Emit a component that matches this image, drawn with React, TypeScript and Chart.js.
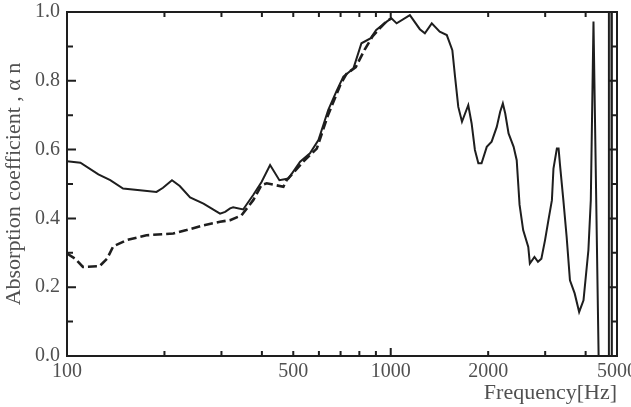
import React, { useEffect, useRef } from "react";
import { Chart, registerables } from "chart.js";

Chart.register(...registerables);

// Solid curve (measured)
const solidFreq = [
  100, 110, 125, 136, 149, 168, 189, 198, 211, 223, 240, 264, 297, 308, 319, 326, 350, 376, 399, 424,
  453, 483, 525, 563, 598, 641, 680, 714, 767, 812, 865, 902, 972, 1005, 1043, 1146, 1230, 1275, 1339,
  1417, 1490, 1550, 1580, 1617, 1660, 1697, 1736, 1778, 1820, 1865, 1908, 1980, 2050, 2126, 2178, 2220,
  2258, 2312, 2397, 2450, 2500, 2565, 2660, 2690, 2780, 2850, 2920, 2997, 3070, 3147, 3182, 3260, 3300,
  3334, 3414, 3495, 3578, 3700, 3820, 3940, 4080, 4150, 4230, 4420, 4690, 4720, 4800, 4820,
];
const solidAbs = [
  0.566, 0.562, 0.528, 0.511, 0.487, 0.482, 0.477, 0.489, 0.511, 0.494, 0.461, 0.443, 0.414, 0.419, 0.429,
  0.432, 0.426, 0.468, 0.506, 0.555, 0.511, 0.516, 0.565, 0.589, 0.628, 0.715, 0.77, 0.812, 0.836, 0.909,
  0.923, 0.948, 0.972, 0.982, 0.967, 0.991, 0.95, 0.938, 0.967, 0.943, 0.933, 0.889, 0.812, 0.724, 0.681,
  0.705, 0.729, 0.676, 0.599, 0.56, 0.56, 0.608, 0.623, 0.666, 0.71, 0.734, 0.705, 0.647, 0.608, 0.569,
  0.44, 0.366, 0.317, 0.269, 0.288, 0.274, 0.283, 0.337, 0.395, 0.453, 0.545, 0.603, 0.603, 0.555, 0.453,
  0.346, 0.22, 0.182, 0.128, 0.162, 0.308, 0.453, 0.972, -0.2, -0.2, 1.3, 1.3, -0.2,
];

// Dashed curve (measured)
const dashedFreq = [
  100, 106, 112, 126, 133, 139, 153, 176, 213, 234, 264, 297, 319, 346, 376, 399, 414, 466, 477, 537,
  591, 640, 700, 730, 780, 830, 880, 930, 975, 1000,
];
const dashedAbs = [
  0.298, 0.283, 0.259, 0.261, 0.283, 0.319, 0.337, 0.351, 0.356, 0.366, 0.38, 0.39, 0.395, 0.409, 0.453,
  0.497, 0.502, 0.492, 0.511, 0.565, 0.603, 0.7, 0.79, 0.82, 0.84, 0.89, 0.93, 0.955, 0.975, 0.98,
];

const xTickLabels = [100, 500, 1000, 2000, 5000];
const xMinorTicks = [200, 300, 400, 500, 600, 700, 800, 900, 1000, 2000, 3000, 4000];
const xLongTicks = [1000];
const yTickLabels = [0, 0.2, 0.4, 0.6, 0.8, 1.0];
const yMinorTicks = [0.1, 0.2, 0.3, 0.4, 0.5, 0.6, 0.7, 0.8, 0.9];
const yLongTicks = [0.2, 0.4, 0.6, 0.8];

const INK = "#1e1e1e";
const TEXT = "#505050";
const FONT = "'Liberation Serif', 'DejaVu Serif', serif";

const framePlugin = {
  id: "frame",
  afterDatasetsDraw(chart: any) {
    const { ctx, chartArea: a, scales } = chart;
    const xs = scales.x;
    const ys = scales.y;
    ctx.save();
    ctx.strokeStyle = INK;
    ctx.lineWidth = 2;
    ctx.strokeRect(a.left, a.top, a.right - a.left, a.bottom - a.top);
    ctx.beginPath();
    xMinorTicks.forEach((v) => {
      const px = xs.getPixelForValue(v);
      const len = xLongTicks.includes(v) ? 8 : 5;
      ctx.moveTo(px, a.bottom);
      ctx.lineTo(px, a.bottom - len);
      ctx.moveTo(px, a.top);
      ctx.lineTo(px, a.top + len);
    });
    yMinorTicks.forEach((v) => {
      const py = ys.getPixelForValue(v);
      const len = yLongTicks.includes(v) ? 9 : 6;
      ctx.moveTo(a.left, py);
      ctx.lineTo(a.left + len, py);
      ctx.moveTo(a.right, py);
      ctx.lineTo(a.right - len, py);
    });
    ctx.stroke();
    ctx.restore();
  },
};

export default function App() {
  const ref = useRef<HTMLCanvasElement | null>(null);

  useEffect(() => {
    if (!ref.current) return;
    const chart = new Chart(ref.current, {
      type: "line",
      data: {
        datasets: [
          {
            label: "solid",
            data: solidFreq.map((f, i) => ({ x: f, y: solidAbs[i] })),
            borderColor: INK,
            borderWidth: 2,
            pointRadius: 0,
            tension: 0,
            fill: false,
            clip: 0,
          },
          {
            label: "dashed",
            data: dashedFreq.map((f, i) => ({ x: f, y: dashedAbs[i] })),
            borderColor: INK,
            borderWidth: 2.6,
            borderDash: [9, 4],
            pointRadius: 0,
            tension: 0,
            fill: false,
            clip: 0,
          },
        ],
      },
      options: {
        animation: false,
        responsive: true,
        maintainAspectRatio: false,
        layout: { padding: { top: 12, right: 14, left: 0, bottom: 0 } },
        plugins: { legend: { display: false }, tooltip: { enabled: false } },
        scales: {
          x: {
            type: "logarithmic",
            min: 100,
            max: 5000,
            grid: { display: false, drawTicks: false },
            border: { display: false },
            afterBuildTicks: (s: any) => {
              s.ticks = xTickLabels.map((v) => ({ value: v }));
            },
            afterFit: (s: any) => {
              s.height = 51;
              s.paddingLeft = 0;
              s.paddingRight = 0;
            },
            ticks: {
              autoSkip: false,
              maxRotation: 0,
              padding: 4,
              color: TEXT,
              font: { family: FONT, size: 20 },
              callback: (v: any) => String(v),
            },
            title: {
              display: true,
              text: "Frequency[Hz]",
              align: "end",
              color: TEXT,
              font: { family: FONT, size: 22 },
              padding: { top: 0, bottom: 1 },
            },
          },
          y: {
            min: 0,
            max: 1,
            grid: { display: false, drawTicks: false },
            border: { display: false },
            afterBuildTicks: (s: any) => {
              s.ticks = yTickLabels.map((v) => ({ value: v }));
            },
            afterFit: (s: any) => {
              s.width = 67;
              s.paddingTop = 0;
              s.paddingBottom = 0;
            },
            ticks: {
              padding: 7,
              color: TEXT,
              font: { family: FONT, size: 20 },
              callback: (v: any) => Number(v).toFixed(1),
            },
            title: {
              display: true,
              text: "Absorption coefficient , α n",
              color: TEXT,
              font: { family: FONT, size: 22 },
              padding: { top: 1, bottom: 0 },
            },
          },
        },
      },
      plugins: [framePlugin],
    });
    return () => chart.destroy();
  }, []);

  return (
    <div
      style={{
        position: "fixed",
        left: 0,
        top: 0,
        width: 631,
        height: 407,
        background: "#fff",
      }}
    >
      <canvas ref={ref} style={{ width: 631, height: 407 }} />
    </div>
  );
}
